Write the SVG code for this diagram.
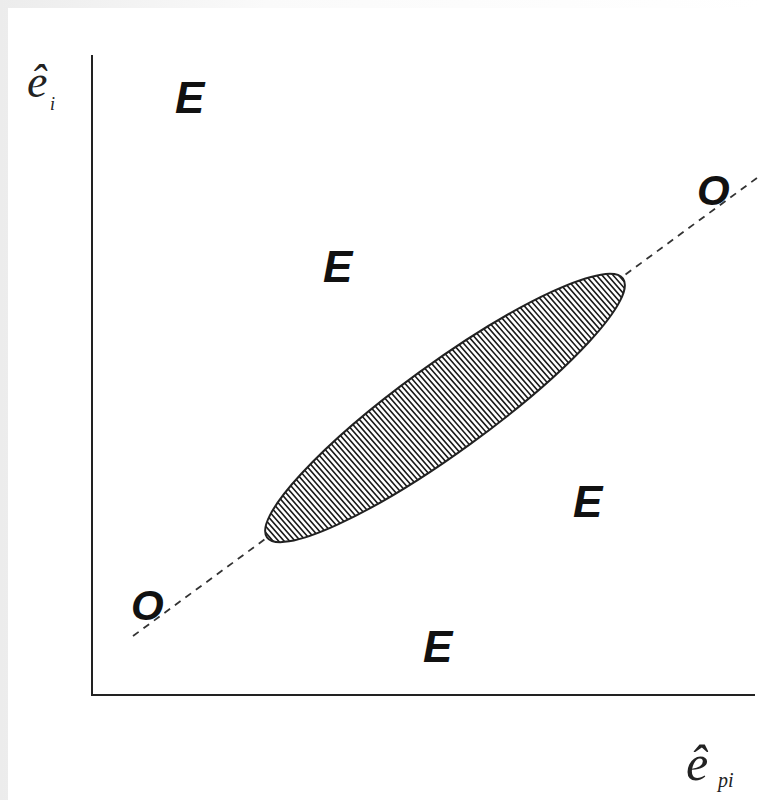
<svg xmlns="http://www.w3.org/2000/svg" width="761" height="800" viewBox="0 0 761 800">
  <defs>
    <linearGradient id="bg" x1="0" y1="0" x2="1" y2="0">
      <stop offset="0" stop-color="#ececec"/>
      <stop offset="0.35" stop-color="#fafafa"/>
      <stop offset="1" stop-color="#ffffff"/>
    </linearGradient>
    <clipPath id="ellclip">
      <ellipse cx="445" cy="408" rx="220" ry="44" transform="rotate(-36 445 408)"/>
    </clipPath>
    <style>
      .lbl { font-family: "Liberation Sans", Arial, sans-serif; font-weight: bold; font-style: italic; font-size: 44px; fill: #111; }
      .olbl { font-family: "Liberation Sans", Arial, sans-serif; font-weight: bold; font-style: italic; font-size: 42px; fill: #111; }
      .ax { font-family: "Liberation Serif", "Times New Roman", serif; font-style: italic; fill: #222; }
      .axis { stroke: #222; stroke-width: 2; fill: none; }
      .hatch { stroke: #1a1a1a; stroke-width: 1.6; fill: none; }
    </style>
  </defs>
  <rect x="0" y="0" width="761" height="800" fill="url(#bg)"/>
  <rect x="8" y="8" width="753" height="792" fill="#ffffff"/>

  <g id="connectors">
    <line id="diag" x1="133" y1="636" x2="761" y2="175" stroke="#333" stroke-width="1.8" stroke-dasharray="7,6"/>
    <path id="axes" class="axis" d="M92,55 L92,695 L755,695"/>
  </g>

  <g id="ellipse">
    <ellipse cx="445" cy="408" rx="220" ry="44" transform="rotate(-36 445 408)" fill="#ffffff"/>
    <path class="hatch" clip-path="url(#ellclip)" d="M20,270 l240,275
m-234.5,-275l240,275 m-234.5,-275l240,275 m-234.5,-275l240,275 m-234.5,-275l240,275 m-234.5,-275l240,275 m-234.5,-275l240,275 m-234.5,-275l240,275 m-234.5,-275l240,275 m-234.5,-275l240,275 m-234.5,-275l240,275
m-234.5,-275l240,275 m-234.5,-275l240,275 m-234.5,-275l240,275 m-234.5,-275l240,275 m-234.5,-275l240,275 m-234.5,-275l240,275 m-234.5,-275l240,275 m-234.5,-275l240,275 m-234.5,-275l240,275 m-234.5,-275l240,275
m-234.5,-275l240,275 m-234.5,-275l240,275 m-234.5,-275l240,275 m-234.5,-275l240,275 m-234.5,-275l240,275 m-234.5,-275l240,275 m-234.5,-275l240,275 m-234.5,-275l240,275 m-234.5,-275l240,275 m-234.5,-275l240,275
m-234.5,-275l240,275 m-234.5,-275l240,275 m-234.5,-275l240,275 m-234.5,-275l240,275 m-234.5,-275l240,275 m-234.5,-275l240,275 m-234.5,-275l240,275 m-234.5,-275l240,275 m-234.5,-275l240,275 m-234.5,-275l240,275
m-234.5,-275l240,275 m-234.5,-275l240,275 m-234.5,-275l240,275 m-234.5,-275l240,275 m-234.5,-275l240,275 m-234.5,-275l240,275 m-234.5,-275l240,275 m-234.5,-275l240,275 m-234.5,-275l240,275 m-234.5,-275l240,275
m-234.5,-275l240,275 m-234.5,-275l240,275 m-234.5,-275l240,275 m-234.5,-275l240,275 m-234.5,-275l240,275 m-234.5,-275l240,275 m-234.5,-275l240,275 m-234.5,-275l240,275 m-234.5,-275l240,275 m-234.5,-275l240,275
m-234.5,-275l240,275 m-234.5,-275l240,275 m-234.5,-275l240,275 m-234.5,-275l240,275 m-234.5,-275l240,275 m-234.5,-275l240,275 m-234.5,-275l240,275 m-234.5,-275l240,275 m-234.5,-275l240,275 m-234.5,-275l240,275
m-234.5,-275l240,275 m-234.5,-275l240,275 m-234.5,-275l240,275 m-234.5,-275l240,275 m-234.5,-275l240,275 m-234.5,-275l240,275 m-234.5,-275l240,275 m-234.5,-275l240,275 m-234.5,-275l240,275 m-234.5,-275l240,275
m-234.5,-275l240,275 m-234.5,-275l240,275 m-234.5,-275l240,275 m-234.5,-275l240,275 m-234.5,-275l240,275 m-234.5,-275l240,275 m-234.5,-275l240,275 m-234.5,-275l240,275 m-234.5,-275l240,275 m-234.5,-275l240,275
m-234.5,-275l240,275 m-234.5,-275l240,275 m-234.5,-275l240,275 m-234.5,-275l240,275 m-234.5,-275l240,275 m-234.5,-275l240,275 m-234.5,-275l240,275 m-234.5,-275l240,275 m-234.5,-275l240,275 m-234.5,-275l240,275
m-234.5,-275l240,275 m-234.5,-275l240,275 m-234.5,-275l240,275 m-234.5,-275l240,275 m-234.5,-275l240,275 m-234.5,-275l240,275 m-234.5,-275l240,275 m-234.5,-275l240,275 m-234.5,-275l240,275 m-234.5,-275l240,275
m-234.5,-275l240,275 m-234.5,-275l240,275"/>
    <ellipse cx="445" cy="408" rx="220" ry="44" transform="rotate(-36 445 408)" fill="none" stroke="#222" stroke-width="2"/>
  </g>

  <g id="label-e1"><text class="lbl" x="175" y="113">E</text></g>
  <g id="label-e2"><text class="lbl" x="323" y="282">E</text></g>
  <g id="label-e3"><text class="lbl" x="573" y="517">E</text></g>
  <g id="label-e4"><text class="lbl" x="423" y="662">E</text></g>
  <g id="label-o1"><text class="olbl" x="131" y="620">O</text></g>
  <g id="label-o2"><text class="olbl" x="697" y="205">O</text></g>

  <g id="y-label">
    <text class="ax" x="27" y="97" font-size="46">ê</text>
    <text class="ax" x="50" y="110" font-size="18">i</text>
  </g>
  <g id="x-label">
    <text class="ax" x="686" y="780" font-size="50">ê</text>
    <text class="ax" x="718" y="787" font-size="20">pi</text>
  </g>
</svg>
